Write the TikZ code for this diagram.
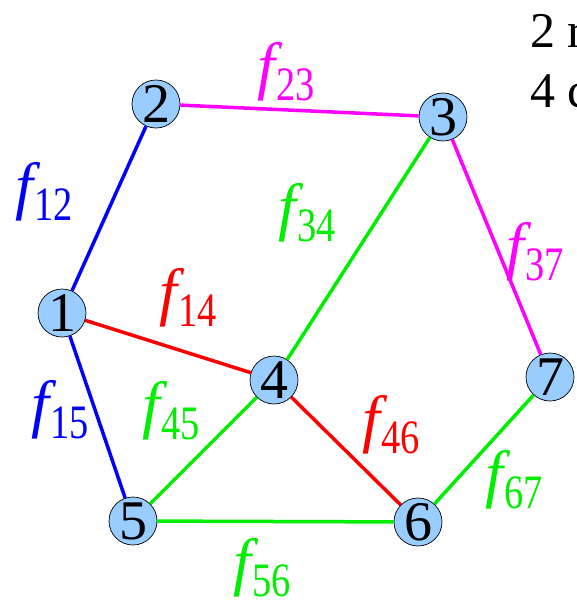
\documentclass[tikz,border=0pt]{standalone}
\usepackage{fontspec}
\setmainfont{Liberation Serif}
\definecolor{nodefill}{HTML}{99CCFF}
\definecolor{cblue}{HTML}{0000FF}
\definecolor{cmag}{HTML}{FF00FF}
\definecolor{cgreen}{HTML}{00EE00}
\definecolor{cred}{HTML}{FF0000}
\newcommand{\flab}[1]{{\fontsize{64}{64}\selectfont\itshape f}\kern1pt\raisebox{-13pt}{\scalebox{0.8}[1]{\fontsize{48}{48}\selectfont #1}}}
\begin{document}
\begin{tikzpicture}[x=1pt,y=-1pt,
  vert/.style={circle,draw=black,line width=0.7pt,fill=nodefill,minimum size=48pt,inner sep=0pt,font=\fontsize{56}{56}\selectfont},
  edge/.style={line width=3.5pt},
  lab/.style={inner sep=0pt,anchor=center}]
\useasboundingbox (0,0) rectangle (577,605);
\node[vert] (n1) at (62,313) {1};
\node[vert] (n2) at (156,104) {2};
\node[vert] (n3) at (443,117) {3};
\node[vert] (n4) at (274,380) {4};
\node[vert] (n5) at (133,521) {5};
\node[vert] (n6) at (418,522) {6};
\node[vert] (n7) at (550,377) {7};
\draw[edge,cblue] (n1) -- (n2);
\draw[edge,cblue] (n1) -- (n5);
\draw[edge,cmag] (n2) -- (n3);
\draw[edge,cmag] (n3) -- (n7);
\draw[edge,cred] (n1) -- (n4);
\draw[edge,cred] (n4) -- (n6);
\draw[edge,cgreen] (n3) -- (n4);
\draw[edge,cgreen] (n4) -- (n5);
\draw[edge,cgreen] (n5) -- (n6);
\draw[edge,cgreen] (n6) -- (n7);
\node[lab,text=cblue] (l12) at (44,192) {\flab{12}};
\node[lab,text=cmag] (l23) at (286,72) {\flab{23}};
\node[lab,text=cgreen] (l34) at (307,213) {\flab{34}};
\node[lab,text=cmag] (l37) at (535,252) {\flab{37}};
\node[lab,text=cred] (l14) at (188,298) {\flab{14}};
\node[lab,text=cgreen] (l45) at (171,411) {\flab{45}};
\node[lab,text=cblue] (l15) at (60,410) {\flab{15}};
\node[lab,text=cred] (l46) at (391,425) {\flab{46}};
\node[lab,text=cgreen] (l67) at (514,480) {\flab{67}};
\node[lab,text=cgreen] (l56) at (262,568) {\flab{56}};
\node[anchor=base west,inner sep=0pt,font=\fontsize{50}{50}\selectfont] (t1) at (530,47) {2 r};
\node[anchor=base west,inner sep=0pt,font=\fontsize{50}{50}\selectfont] (t2) at (530,107) {4 c};
\end{tikzpicture}
\end{document}
